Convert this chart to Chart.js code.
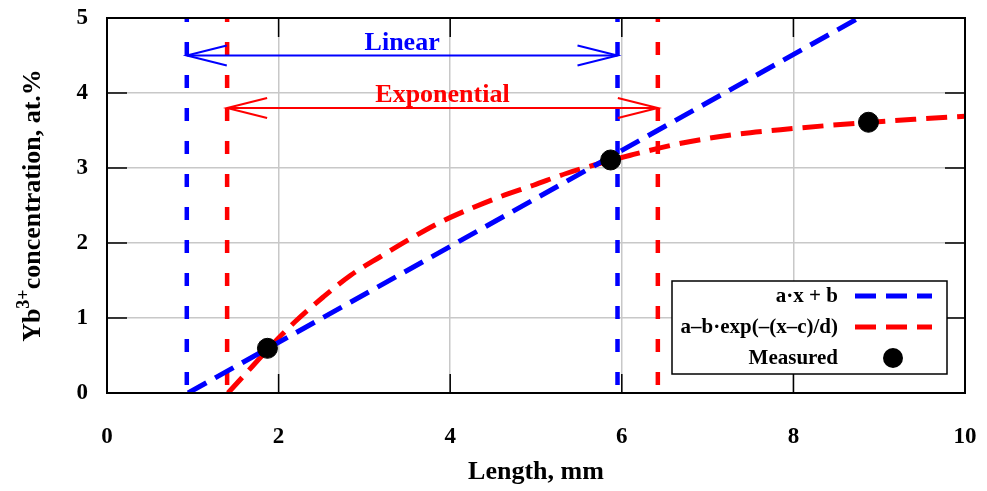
<!DOCTYPE html>
<html>
<head>
<meta charset="utf-8">
<script src="https://cdn.jsdelivr.net/npm/chart.js@4/dist/chart.umd.min.js"></script>
<style>
  html, body { margin: 0; padding: 0; background: #fff; }
  #wrap { width: 987px; height: 491px; position: relative; }
</style>
</head>
<body>
<div id="wrap"><canvas id="myChart"></canvas></div>
<script>
// values
const linearX = [0.945, 8.76];
const linearY = [0, 5];

const expX = [1.41, 1.69, 1.98, 2.21, 2.52, 2.84, 3.19, 3.54, 3.89, 4.24, 4.59, 4.97, 5.36, 5.71, 6.10, 6.69, 7.27, 7.85, 8.44, 9.41, 10.0];
const expY = [0, 0.35, 0.71, 0.97, 1.28, 1.57, 1.82, 2.06, 2.28, 2.46, 2.62, 2.77, 2.93, 3.05, 3.17, 3.33, 3.44, 3.51, 3.57, 3.65, 3.69];

const measuredX = [1.87, 5.87, 8.875];
const measuredY = [0.596, 3.107, 3.61];

// fit range limits and arrows
const linearRange = [0.93, 5.95];
const expRange = [1.40, 6.42];
const linearArrowY = 4.5;
const expArrowY = 3.8;

const xTicks = [0, 2, 4, 6, 8, 10];
const yTicks = [0, 1, 2, 3, 4, 5];

const BLUE = '#0000ff';
const RED = '#ff0000';
const FONT = "'Liberation Serif', 'Times New Roman', serif";

const pts = (xs, ys) => xs.map((x, i) => ({ x: x, y: ys[i] }));

const vline = (x, color) => ({
    data: [{ x: x, y: 5 }, { x: x, y: 0 }],
    borderColor: color,
    borderWidth: 4.5,
    borderDash: [13, 20],
    borderDashOffset: 9,
    pointRadius: 0,
    showLine: true,
    fill: false,
    isHelper: true
});

const arrow = (range, y, color, label) => ({
    data: [{ x: range[0], y: y }, { x: range[1], y: y }],
    borderColor: color,
    borderWidth: 2,
    pointRadius: 0,
    showLine: true,
    fill: false,
    isHelper: true,
    arrowLabel: label
});

const framePlugin = {
    id: 'frame',
    afterDatasetsDraw(chart) {
        const ctx = chart.ctx;
        const a = chart.chartArea;
        const xs = chart.scales.x, ys = chart.scales.y;

        // arrow heads + labels
        chart.data.datasets.forEach((ds, i) => {
            if (!ds.arrowLabel) return;
            const meta = chart.getDatasetMeta(i);
            const p0 = meta.data[0], p1 = meta.data[1];
            ctx.save();
            ctx.strokeStyle = ds.borderColor;
            ctx.lineWidth = 2;
            ctx.beginPath();
            ctx.moveTo(p0.x + 40, p0.y - 10); ctx.lineTo(p0.x, p0.y); ctx.lineTo(p0.x + 40, p0.y + 10);
            ctx.moveTo(p1.x - 40, p1.y - 10); ctx.lineTo(p1.x, p1.y); ctx.lineTo(p1.x - 40, p1.y + 10);
            ctx.stroke();
            ctx.fillStyle = ds.borderColor;
            ctx.font = 'bold 26px ' + FONT;
            ctx.textAlign = 'center';
            ctx.textBaseline = 'alphabetic';
            ctx.fillText(ds.arrowLabel, (p0.x + p1.x) / 2, p0.y - 6);
            ctx.restore();
        });

        ctx.save();
        // inward black ticks
        ctx.strokeStyle = '#000';
        ctx.lineWidth = 1.5;
        ctx.beginPath();
        xTicks.slice(1, -1).forEach(v => {
            const px = xs.getPixelForValue(v);
            ctx.moveTo(px, a.bottom); ctx.lineTo(px, a.bottom - 19);
            ctx.moveTo(px, a.top); ctx.lineTo(px, a.top + 19);
        });
        yTicks.slice(1, -1).forEach(v => {
            const py = ys.getPixelForValue(v);
            ctx.moveTo(a.left, py); ctx.lineTo(a.left + 20, py);
            ctx.moveTo(a.right, py); ctx.lineTo(a.right - 20, py);
        });
        ctx.stroke();
        // frame
        ctx.lineWidth = 2;
        ctx.strokeRect(a.left, a.top, a.right - a.left, a.bottom - a.top);

        // legend
        const bx = 672, by = 281, bw = 275, bh = 93;
        ctx.fillStyle = '#fff';
        ctx.fillRect(bx, by, bw, bh);
        ctx.lineWidth = 1.5;
        ctx.strokeRect(bx, by, bw, bh);
        ctx.font = 'bold 21px ' + FONT;
        ctx.textAlign = 'right';
        ctx.textBaseline = 'middle';
        const rows = [296, 327, 358];
        chart.data.datasets.filter(d => d.legendRow !== undefined).forEach(ds => {
            const y = rows[ds.legendRow];
            ctx.fillStyle = '#000';
            ctx.fillText(ds.label, 838, y + 1);
            if (ds.showLine) {
                ctx.save();
                ctx.strokeStyle = ds.borderColor;
                ctx.lineWidth = 5;
                ctx.setLineDash(ds.borderDash);
                ctx.beginPath();
                ctx.moveTo(855, y); ctx.lineTo(932, y);
                ctx.stroke();
                ctx.restore();
            } else {
                ctx.beginPath();
                ctx.arc(893, y, 10, 0, Math.PI * 2);
                ctx.fillStyle = '#000';
                ctx.fill();
            }
        });

        // y axis title with superscript
        ctx.translate(40, (a.top + a.bottom) / 2);
        ctx.rotate(-Math.PI / 2);
        ctx.textAlign = 'left';
        ctx.textBaseline = 'alphabetic';
        ctx.fillStyle = '#000';
        const big = 'bold 26px ' + FONT, small = 'bold 18px ' + FONT;
        ctx.font = big;
        const w1 = ctx.measureText('Yb').width;
        const w3 = ctx.measureText('concentration, at.%').width;
        ctx.font = small;
        const w2 = ctx.measureText('3+').width;
        let x0 = -(w1 + w2 + w3) / 2;
        ctx.font = big;
        ctx.fillText('Yb', x0, 0);
        ctx.font = small;
        ctx.fillText('3+', x0 + w1, -11);
        ctx.font = big;
        ctx.fillText('concentration, at.%', x0 + w1 + w2, 0);
        ctx.restore();
    }
};

const ctx = document.getElementById('myChart').getContext('2d');
const chart = new Chart(ctx, {
    type: 'scatter',
    data: {
        datasets: [
            {
                label: 'Measured',
                legendRow: 2,
                data: pts(measuredX, measuredY),
                backgroundColor: '#000',
                borderColor: '#000',
                pointRadius: 10,
                showLine: false
            },
            {
                label: 'a·x + b',
                legendRow: 0,
                data: pts(linearX, linearY),
                borderColor: BLUE,
                borderWidth: 5,
                borderDash: [21, 10],
                pointRadius: 0,
                showLine: true,
                fill: false
            },
            {
                label: 'a–b·exp(–(x–c)/d)',
                legendRow: 1,
                data: pts(expX, expY),
                borderColor: RED,
                borderWidth: 5,
                borderDash: [21, 10],
                pointRadius: 0,
                showLine: true,
                tension: 0.4,
                cubicInterpolationMode: 'monotone',
                fill: false
            },
            arrow(linearRange, linearArrowY, BLUE, 'Linear'),
            arrow(expRange, expArrowY, RED, 'Exponential'),
            vline(linearRange[0], BLUE),
            vline(linearRange[1], BLUE),
            vline(expRange[0], RED),
            vline(expRange[1], RED)
        ]
    },
    options: {
        responsive: true,
        maintainAspectRatio: false,
        animation: false,
        layout: { padding: { top: 18, right: 22, left: 0, bottom: 0 } },
        plugins: {
            legend: { display: false },
            tooltip: { enabled: false }
        },
        scales: {
            x: {
                type: 'linear',
                min: 0,
                max: 10,
                afterFit: s => { s.height = 98; s.paddingLeft = 0; s.paddingRight = 0; },
                afterBuildTicks: s => { s.ticks = xTicks.map(v => ({ value: v })); },
                grid: { color: '#c8c8c8', lineWidth: 1.5, drawTicks: false },
                border: { display: false },
                ticks: { color: '#000', padding: 30, font: { family: FONT, size: 23, weight: 'bold' }, maxRotation: 0 },
                title: {
                    display: true,
                    text: 'Length, mm',
                    color: '#000',
                    font: { family: FONT, size: 26, weight: 'bold' },
                    padding: { top: 0, bottom: 3 }
                }
            },
            y: {
                type: 'linear',
                min: 0,
                max: 5,
                afterFit: s => { s.width = 107; s.paddingTop = 0; s.paddingBottom = 0; },
                afterBuildTicks: s => { s.ticks = yTicks.map(v => ({ value: v })); },
                grid: { color: '#c8c8c8', lineWidth: 1.5, drawTicks: false },
                border: { display: false },
                ticks: { color: '#000', padding: 19, font: { family: FONT, size: 23, weight: 'bold' } }
            }
        }
    },
    plugins: [framePlugin]
});
</script>
</body>
</html>
